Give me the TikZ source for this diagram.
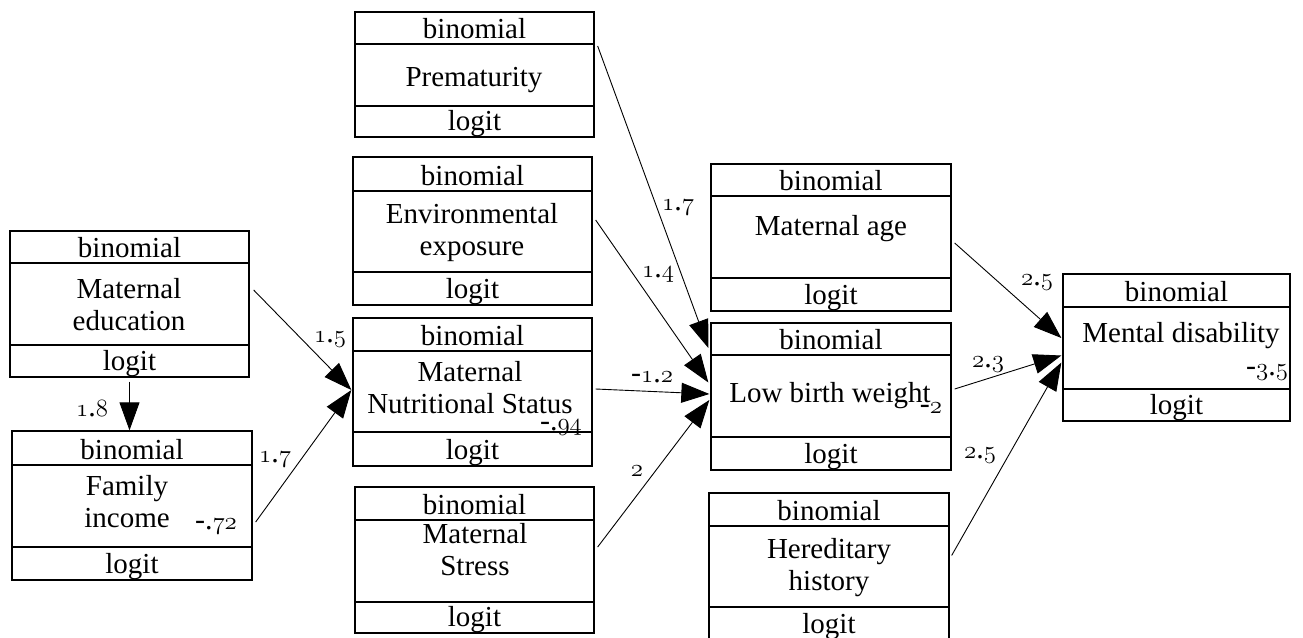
\documentclass[tikz,border=0pt]{standalone}
\usepackage{fontspec}
\setmainfont{Liberation Serif}
\usetikzlibrary{arrows.meta,fit,calc}
\newcommand\osn[1]{{\fontencoding{OML}\fontfamily{lmm}\fontseries{b}\fontshape{it}\selectfont #1}}
\newcommand\num[2]{\osn{#1}.\osn{#2}}
\tikzset{
  glmbox/.style={draw, line width=1.3pt, inner sep=0pt},
  divline/.style={line width=1.3pt},
  txt/.style={font=\fontsize{29}{32}\selectfont, inner sep=0pt, align=center},
  lab/.style={font=\fontsize{30}{32}\selectfont, inner sep=0pt, anchor=base},
  conn/.style={line width=0.9pt, -{Triangle[length=28pt,width=20pt]}},
}
% name, left, top, right, bottom, divider1, divider2
\newcommand\glm[7]{%
  \node[glmbox, fit={(#2,#3) (#4,#5)}] (#1) {};
  \draw[divline] (#2,#6) -- (#4,#6);
  \draw[divline] (#2,#7) -- (#4,#7);
  \node[txt, anchor=base] (#1-h) at ({(#2+#4)/2},{#6-6}) {binomial};
  \node[txt, anchor=base] (#1-f) at ({(#2+#4)/2},{#5-7}) {logit};
}
\begin{document}
\begin{tikzpicture}[x=1pt,y=-1pt]
\useasboundingbox (0,0) rectangle (1303,637);
\glm{ME}{10}{231}{249}{377}{263}{345}
\glm{FI}{12}{431}{252}{580}{465}{547}
\glm{PR}{355}{12}{594}{137}{44}{106}
\glm{EE}{353}{157}{592}{305}{191}{272}
\glm{MNS}{353}{318}{592}{466}{351}{432}
\glm{MS}{355}{487}{594}{633}{520}{602}
\glm{MA}{711}{164}{951}{311}{196}{278}
\glm{LBW}{711}{323}{951}{470}{355}{437}
\glm{MD}{1063}{274}{1290}{421}{307}{389}
\glm{HH}{709}{493}{949}{640}{526}{607}
% middle texts (base = baseline of the last line)
\node[txt, anchor=base] (ME-t) at (129,330) {Maternal\\education};
\node[txt, anchor=base] (FI-t) at (127,527) {Family\\income};
\node[txt, anchor=base] (PR-t) at (474,86) {Prematurity};
\node[txt, anchor=base] (EE-t) at (472,255) {Environmental\\exposure};
\node[txt, anchor=base] (MNS-t) at (470,413) {Maternal\\Nutritional Status};
\node[txt, anchor=base] (MS-t) at (475,575) {Maternal\\Stress};
\node[txt, anchor=base] (MA-t) at (831,235) {Maternal age};
\node[txt, anchor=base] (LBW-t) at (830,402) {Low birth weight};
\node[txt, anchor=base] (MD-t) at (1181,342) {Mental disability};
\node[txt, anchor=base] (HH-t) at (829,590) {Hereditary\\history};
% intercepts
\node[lab] (FI-i) at (216,529) {-.\osn{72}};
\node[lab] (MNS-i) at (561,430) {-.\osn{94}};
\node[lab] (LBW-i) at (931,413) {-\osn{2}};
\node[lab] (MD-i) at (1267,375) {-\num{3}{5}};
% connectors
\draw[conn] ([yshift=-4pt]ME.south) -- (ME.south |- FI.north);
\draw[conn] ([xshift=4pt,yshift=14pt]ME.east) -- ([xshift=-1pt,yshift=2pt]MNS.west);
\draw[conn] ([xshift=3pt,yshift=-16.5pt]FI.east) -- ([xshift=-1pt,yshift=2pt]MNS.west);
\draw[conn] ([xshift=3pt,yshift=28.5pt]PR.east) -- ([xshift=-2pt,yshift=48.5pt]LBW.west);
\draw[conn] ([xshift=3pt,yshift=11pt]EE.east) -- ([xshift=-2pt,yshift=14pt]LBW.west);
\draw[conn] ([xshift=3pt,yshift=3pt]MNS.east) -- ([xshift=-1pt,yshift=2.5pt]LBW.west);
\draw[conn] ([xshift=3pt,yshift=13pt]MS.east) -- ([xshift=-1pt,yshift=-3.5pt]LBW.west);
\draw[conn] ([xshift=3pt,yshift=-5.5pt]MA.east) -- ([xshift=-1pt,yshift=9.5pt]MD.west);
\draw[conn] ([xshift=3pt,yshift=7.5pt]LBW.east) -- ([xshift=-1pt,yshift=-8pt]MD.west);
\draw[conn] ([xshift=2pt,yshift=11pt]HH.east) -- ([xshift=-1pt,yshift=-15pt]MD.west);
% coefficient labels
\node[lab] (l1) at (92,416) {\num{1}{8}};
\node[lab] (l2) at (330,342) {\num{1}{5}};
\node[lab] (l3) at (275,462) {\num{1}{7}};
\node[lab] (l4) at (678,210) {\num{1}{7}};
\node[lab] (l5) at (658,277) {\num{1}{4}};
\node[lab] (l6) at (652,382) {-\num{1}{2}};
\node[lab] (l7) at (637,476) {\osn{2}};
\node[lab] (l8) at (1037,285) {\num{2}{5}};
\node[lab] (l9) at (988,367) {\num{2}{3}};
\node[lab] (l10) at (980,458) {\num{2}{5}};
\end{tikzpicture}
\end{document}
